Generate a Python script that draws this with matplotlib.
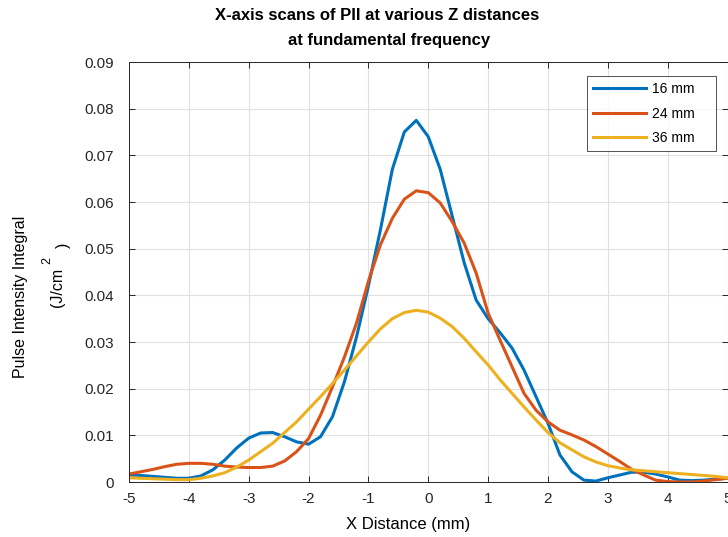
import matplotlib.pyplot as plt
import numpy as np

plt.rcParams["font.family"] = ["Liberation Sans", "DejaVu Sans"]

# x positions of the scan samples (mm)
x_mm = np.round(np.arange(-5.0, 5.0001, 0.2), 2)

pii_16mm = [
    0.0015, 0.0014, 0.0012, 0.0010, 0.0008, 0.0008, 0.0013, 0.0026, 0.0047, 0.0073,
    0.0094, 0.0105, 0.0106, 0.0097, 0.0086, 0.0081, 0.0097, 0.0140, 0.0215, 0.0310,
    0.0420, 0.0540, 0.0670, 0.0750, 0.0775, 0.0740, 0.0670, 0.0570, 0.0470, 0.0390,
    0.0350, 0.0320, 0.0287, 0.0240, 0.0183, 0.0126, 0.0058, 0.0022, 0.0004, 0.0002,
    0.0009, 0.0015, 0.0021, 0.0021, 0.0017, 0.0011, 0.0004, 0.0003, 0.0004, 0.0006,
    0.0008,
]
pii_24mm = [
    0.0017, 0.0022, 0.0027, 0.0033, 0.0038, 0.0040, 0.0040, 0.0038, 0.0034, 0.0032,
    0.0031, 0.0031, 0.0034, 0.0045, 0.0065, 0.0093, 0.0143, 0.0204, 0.0268, 0.0340,
    0.0430, 0.0508, 0.0565, 0.0606, 0.0624, 0.0620, 0.0598, 0.0558, 0.0512, 0.0448,
    0.0362, 0.0304, 0.0247, 0.0190, 0.0154, 0.0129, 0.0111, 0.0101, 0.0090, 0.0076,
    0.0060, 0.0044, 0.0027, 0.0015, 0.0004, 0.0001, 0.0000, 0.0000, 0.0002, 0.0005,
    0.0008,
]
pii_36mm = [
    0.0009, 0.0008, 0.0007, 0.0006, 0.0005, 0.0005, 0.0008, 0.0013, 0.0020, 0.0032,
    0.0047, 0.0065, 0.0083, 0.0106, 0.0129, 0.0156, 0.0183, 0.0211, 0.0240, 0.0270,
    0.0300, 0.0328, 0.0350, 0.0363, 0.0368, 0.0364, 0.0351, 0.0333, 0.0308, 0.0279,
    0.0251, 0.0219, 0.0190, 0.0161, 0.0133, 0.0106, 0.0084, 0.0069, 0.0054, 0.0043,
    0.0035, 0.0030, 0.0026, 0.0024, 0.0022, 0.0020, 0.0018, 0.0016, 0.0014, 0.0012,
    0.0009,
]

series_labels = ["16 mm", "24 mm", "36 mm"]
series_colors = ["#0072BD", "#D95319", "#EDB120"]

x_ticks = list(range(-5, 6))
y_ticks = [0, 0.01, 0.02, 0.03, 0.04, 0.05, 0.06, 0.07, 0.08, 0.09]
y_tick_labels = ["0", "0.01", "0.02", "0.03", "0.04", "0.05", "0.06", "0.07", "0.08", "0.09"]

W, H = 728, 537
fig = plt.figure(figsize=(W / 100, H / 100), dpi=100)
ax = fig.add_axes([129 / W, (H - 482) / H, (727.5 - 129) / W, (482 - 62) / H])

for values, label, color in zip([pii_16mm, pii_24mm, pii_36mm], series_labels, series_colors):
    # trailing spaces widen the legend box on the right
    ax.plot(x_mm, values, color=color, linewidth=2.2, label=label + "    ")

ax.set_xlim(-5, 5)
ax.set_ylim(0, 0.09)
ax.set_xticks(x_ticks)
ax.set_xticklabels([str(t) for t in x_ticks])
ax.set_yticks(y_ticks)
ax.set_yticklabels(y_tick_labels)

ax.grid(True, color="#e0e0e0", linewidth=0.8)
ax.set_axisbelow(True)
for spine in ax.spines.values():
    spine.set_color("#262626")
    spine.set_linewidth(0.7)
ax.tick_params(direction="in", length=4, width=0.7, colors="#262626",
               top=True, right=True, labelsize=11)
ax.tick_params(axis="y", pad=11)
ax.tick_params(axis="x", pad=7)

leg = ax.legend(loc="upper left", bbox_to_anchor=(587 / W, (H - 76) / H),
                bbox_transform=fig.transFigure, fontsize=10, frameon=True,
                fancybox=False, handlelength=3.8, handletextpad=0.4,
                borderpad=0.45, borderaxespad=0, labelspacing=0.75)
leg.get_frame().set_edgecolor("#262626")
leg.get_frame().set_linewidth(0.7)

fig.text(377.5 / W, 1 - 15 / H, "X-axis scans of PII at various Z distances",
         ha="center", va="center", fontsize=12, fontweight="bold")
fig.text(389.5 / W, 1 - 40 / H, "at fundamental frequency",
         ha="center", va="center", fontsize=12, fontweight="bold")

fig.text(408 / W, 1 - 525 / H, "X Distance (mm)", ha="center", va="center", fontsize=12)
fig.text(21 / W, 1 - 297 / H, "Pulse Intensity Integral", rotation=90,
         ha="center", va="center", fontsize=11.5)
fig.text(58 / W, 1 - 287 / H, "(J/cm", rotation=90, ha="center", va="center", fontsize=11.5)
fig.text(47 / W, 1 - 261 / H, "2", rotation=90, ha="center", va="center", fontsize=9)
fig.text(63 / W, 1 - 245 / H, ")", rotation=90, ha="center", va="center", fontsize=11.5)

fig.savefig("out.png", dpi=100)
